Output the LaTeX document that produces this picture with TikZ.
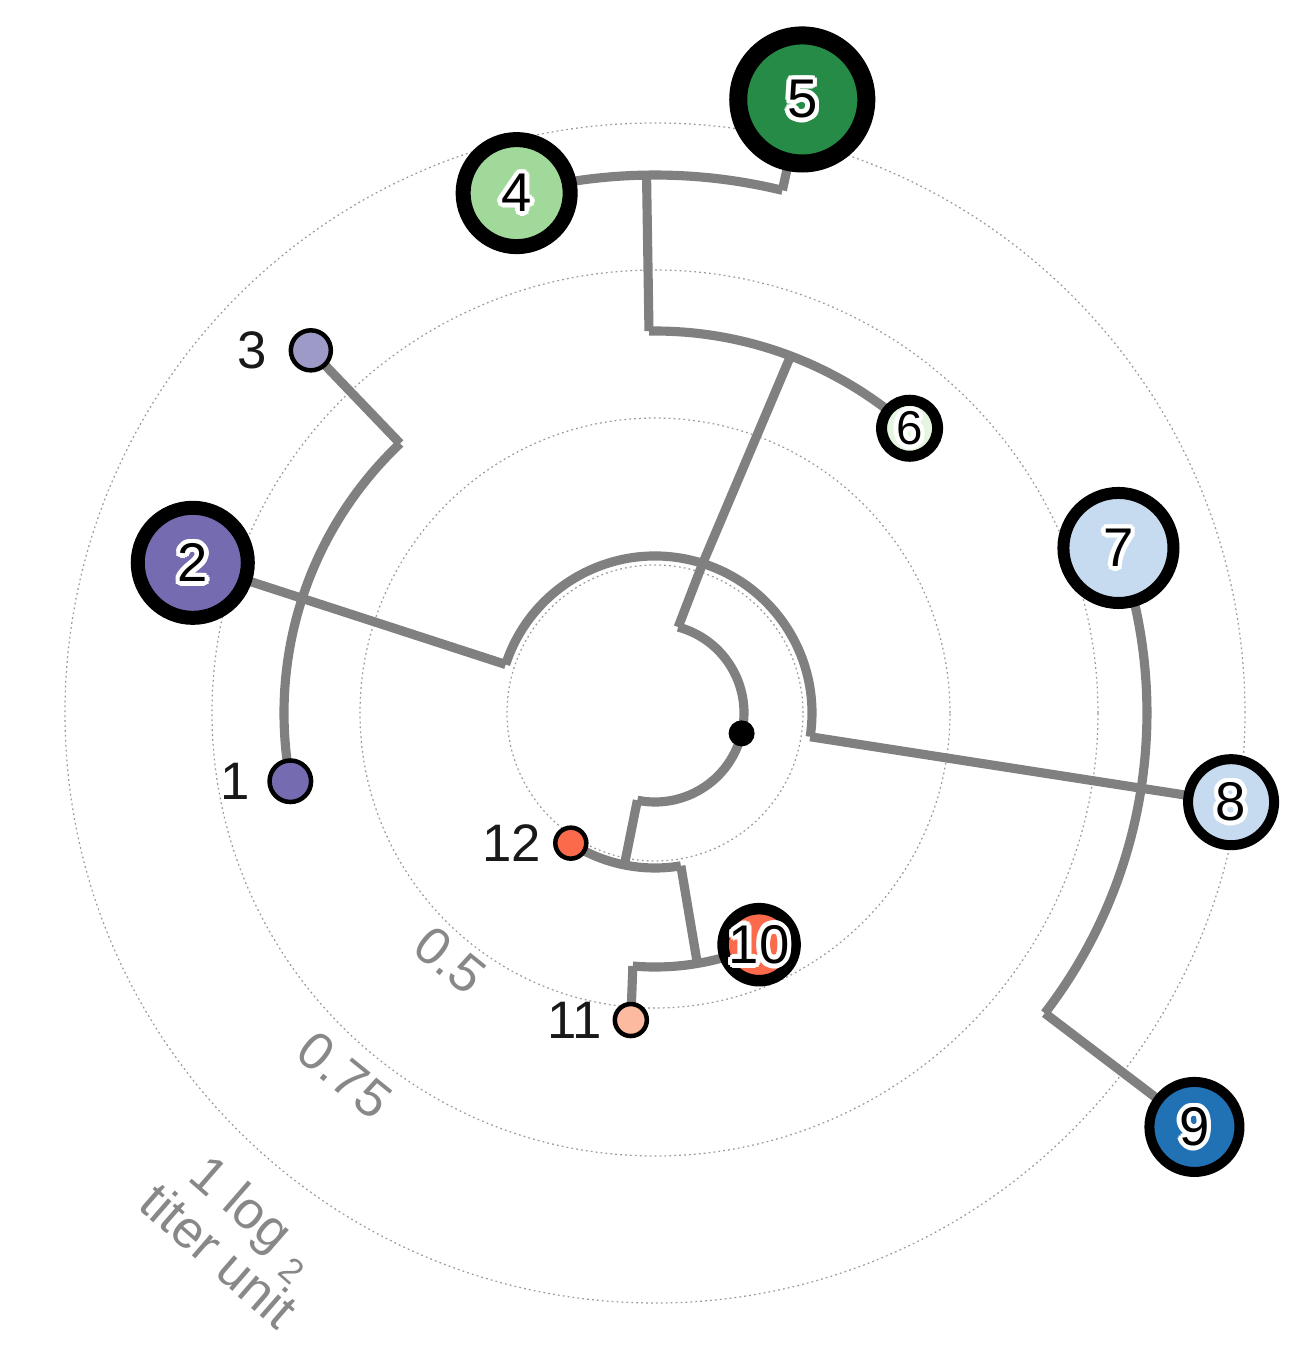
\documentclass[tikz,border=0pt]{standalone}
\usepackage{fontspec}
\setmainfont{Liberation Sans}
\usepackage{xcolor}
\usetikzlibrary{positioning}
\definecolor{branchgray}{HTML}{808080}
\definecolor{ringgray}{HTML}{9A9A9A}
\definecolor{scalegray}{HTML}{888888}
\definecolor{purpleA}{HTML}{756BB1}
\definecolor{purpleB}{HTML}{9E9AC8}
\definecolor{greenA}{HTML}{A1D99B}
\definecolor{greenB}{HTML}{258B47}
\definecolor{greenC}{HTML}{E5F5E0}
\definecolor{blueA}{HTML}{C6DBEF}
\definecolor{blueB}{HTML}{2171B5}
\definecolor{redA}{HTML}{FB6A4A}
\definecolor{redB}{HTML}{FCBBA1}
\pgfdeclarelayer{bg}
\pgfsetlayers{bg,main}
\tikzset{
    branch/.style={draw=branchgray, line width=2.6pt},
    scalering/.style={draw=ringgray, line width=0.35pt, dash pattern=on 0.5pt off 0.9pt},
    tip/.style={circle, draw=black, inner sep=0pt},
    smalltip/.style={tip, line width=0.045cm},
    numtext/.style={inner sep=0pt, font=\fontsize{15.5}{16}\selectfont},
    sidetext/.style={inner sep=0pt, text=black!90, font=\fontsize{15}{16}\selectfont},
    scaletext/.style={inner sep=0pt, text=scalegray, font=\fontsize{15}{15.6}\selectfont}
}
\newcommand{\tipnum}[3][]{%
    \foreach \a in {0,30,...,330}
        \node[numtext, text=white, #1] (#2-h\a) at ([shift={(\a:1.3pt)}]#2.center) {#3};
    \node[numtext, #1] (#2-num) at (#2.center) {#3};
}

\begin{document}
\begin{tikzpicture}[x=0.01cm, y=0.01cm]
    \useasboundingbox (-655,-637) rectangle (646,713);

    % ---------------- scale rings ----------------
    \begin{pgfonlayer}{bg}
        \foreach \r in {148,295,443,590}
            \draw[scalering] (0,0) circle[radius=\r];
    \end{pgfonlayer}

    \node[scaletext, rotate=-39] (s50) at (230.3:321) {0.5};
    \node[scaletext, rotate=-39] (s75) at (229.4:477) {0.75};
    \node[scaletext, rotate=-41, align=center] (s100) at (231.3:668)
        {1 log \raisebox{-0.45ex}{\fontsize{10}{12}\selectfont 2}\\titer unit};

    % ---------------- tips ----------------
    \node[smalltip, minimum size=0.415cm, fill=purpleA] (n1) at (190.6:371) {};
    \node[tip, minimum size=1.10cm, line width=0.14cm, fill=purpleA] (n2) at (162:486) {};
    \node[smalltip, minimum size=0.40cm, fill=purpleB] (n3) at (133.5:500) {};
    \node[tip, minimum size=1.07cm, line width=0.15cm, fill=greenA] (n4) at (104.9:538) {};
    \node[tip, minimum size=1.28cm, line width=0.18cm, fill=greenB] (n5) at (76.5:631) {};
    \node[tip, minimum size=0.56cm, line width=0.11cm, fill=greenC] (n6) at (48.2:382) {};
    \node[tip, minimum size=1.10cm, line width=0.12cm, fill=blueA] (n7) at (19.6:492) {};
    \node[tip, minimum size=0.86cm, line width=0.10cm, fill=blueA] (n8) at (-8.8:583) {};
    \node[tip, minimum size=0.90cm, line width=0.10cm, fill=blueB] (n9) at (-37.5:680) {};
    \node[tip, minimum size=0.72cm, line width=0.115cm, fill=redA] (n10) at (294.2:254) {};
    \node[smalltip, minimum size=0.32cm, fill=redB] (n11) at (265.5:308) {};
    \node[smalltip, minimum size=0.31cm, fill=redA] (n12) at (237.1:155) {};
    \node[circle, fill=black, inner sep=0pt, minimum size=0.26cm] (root) at (-13.25:89) {};

    \tipnum{n2}{2}
    \tipnum{n4}{4}
    \tipnum{n5}{5}
    \tipnum[font=\fontsize{13.5}{15}\selectfont]{n6}{6}
    \tipnum{n7}{7}
    \tipnum{n8}{8}
    \tipnum{n9}{9}
    \tipnum{n10}{10}

    \node[sidetext, left=0.165cm of n1] (t1) {1};
    \node[sidetext, left=0.215cm of n3] (t3) {3};
    \node[sidetext, left=0.10cm of n11] (t11) {11};
    \node[sidetext, left=0.11cm of n12] (t12) {12};

    % ---------------- junctions ----------------
    \coordinate (up0) at (74.9:89);
    \coordinate (up1) at (72.3:157.5);
    \coordinate (up2) at (69.2:382);
    \coordinate (dn0) at (258.6:89);
    \coordinate (dn1) at (258.6:155);
    \coordinate (dn2) at (279.6:155);
    \coordinate (dn3) at (279.6:254);
    \coordinate (dn4) at (265:254);
    \coordinate (le1) at (162:157);
    \coordinate (le2) at (133.4:371);
    \coordinate (ri1) at (-8.7:157);
    \coordinate (ri2) at (-37.6:492);
    \coordinate (mid1) at (90.9:382);
    \coordinate (mid2) at (90.9:538);
    \coordinate (top1) at (76.3:538);

    % ---------------- branches ----------------
    \begin{pgfonlayer}{bg}
        \draw[branch] (up0) arc[start angle=74.9, end angle=-101.4, radius=89];
        \draw[branch] (up0) -- (up1) -- (up2);
        \draw[branch] (le1) arc[start angle=162, end angle=-8.7, radius=157];
        \draw[branch] (le1) -- (n2.center);
        \draw[branch] (ri1) -- (n8.center);
        \draw[branch] (mid1) arc[start angle=90.9, end angle=48.2, radius=382];
        \draw[branch] (mid1) -- (mid2);
        \draw[branch] (n4.center) arc[start angle=104.9, end angle=76.3, radius=538];
        \draw[branch] (top1) -- (n5.center);
        \draw[branch] (n1.center) arc[start angle=190.6, end angle=133.4, radius=371];
        \draw[branch] (le2) -- (n3.center);
        \draw[branch] (n7.center) arc[start angle=19.6, end angle=-37.6, radius=492];
        \draw[branch] (ri2) -- (n9.center);
        \draw[branch] (dn0) -- (dn1);
        \draw[branch] (n12.center) arc[start angle=237.1, end angle=279.6, radius=155];
        \draw[branch] (dn2) -- (dn3);
        \draw[branch] (dn4) arc[start angle=265, end angle=294.2, radius=254];
        \draw[branch] (dn4) -- (n11.center);
    \end{pgfonlayer}
\end{tikzpicture}
\end{document}
